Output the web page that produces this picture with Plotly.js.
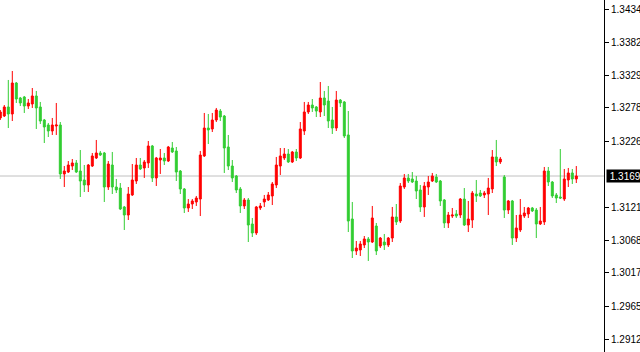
<!DOCTYPE html>
<html>
<head>
<meta charset="utf-8">
<script src="https://cdn.plot.ly/plotly-3.0.1.min.js"></script>
<style>html,body{margin:0;padding:0;background:#fff;}#chart{width:640px;height:352px;}</style>
</head>
<body>
<div id="chart"></div>
<script>
// Candle prices (bar 0 = leftmost)
const open = [
1.32626,1.32657,1.32800,1.32689,1.33179,1.32942,1.32958,1.32815,1.32847,1.32974,
1.32800,1.32594,1.32515,1.32420,1.32499,1.32515,1.31740,1.31771,1.31866,1.31914,
1.31787,1.31645,1.31566,1.31866,1.31993,1.32072,1.32072,1.31534,1.31882,1.31534,
1.31518,1.31218,1.31091,1.31408,1.31629,1.31882,1.31835,1.31914,1.32183,1.31677,
1.31961,1.31993,1.31945,1.32151,1.32104,1.31787,1.31503,1.31202,1.31265,1.31297,
1.31344,1.32025,1.32467,1.32452,1.32594,1.32736,1.32657,1.32167,1.31866,1.31708,
1.31503,1.31234,1.31329,1.30949,1.30807,1.31202,1.31297,1.31329,1.31392,1.31566,
1.31866,1.31993,1.32056,1.31930,1.32088,1.31993,1.32420,1.32721,1.32831,1.32800,
1.32721,1.32942,1.32894,1.32594,1.32467,1.32910,1.32879,1.32357,1.31028,1.30522,
1.30538,1.30617,1.30712,1.30664,1.30917,1.30601,1.30664,1.30617,1.30727,1.31060,
1.30996,1.31534,1.31677,1.31661,1.31629,1.31487,1.31218,1.31534,1.31629,1.31692,
1.31629,1.31329,1.30965,1.31075,1.31107,1.31091,1.31344,1.30933,1.31012,1.31423,
1.31439,1.31408,1.31423,1.31503,1.32009,1.31930,1.31692,1.31170,1.31313,1.30727,
1.30854,1.31075,1.31107,1.31202,1.31170,1.30949,1.30981,1.31787,1.31613,1.31408,
1.31376,1.31344,1.31645,1.31756,1.31661];
const high = [
1.32752,1.32831,1.33227,1.33369,1.33195,1.32958,1.32974,1.32926,1.33100,1.33053,
1.32879,1.32610,1.32547,1.32626,1.32863,1.32562,1.31866,1.31945,1.31977,1.31961,
1.32119,1.31882,1.31898,1.32072,1.32278,1.32104,1.32088,1.31945,1.32088,1.31661,
1.31597,1.31234,1.31534,1.31898,1.31993,1.31993,1.31961,1.32262,1.32199,1.32009,
1.32135,1.32072,1.32183,1.32246,1.32167,1.31803,1.31518,1.31344,1.31344,1.31392,
1.32104,1.32705,1.32689,1.32705,1.32784,1.32768,1.32673,1.32357,1.31961,1.31724,
1.31534,1.31360,1.31360,1.31044,1.31234,1.31281,1.31408,1.31455,1.31613,1.32009,
1.32151,1.32151,1.32135,1.32104,1.32135,1.32562,1.32879,1.32879,1.32926,1.32815,
1.33195,1.33053,1.33132,1.32800,1.33053,1.32926,1.32894,1.32736,1.31297,1.30680,
1.30680,1.30759,1.30743,1.31234,1.30965,1.30743,1.30791,1.30743,1.31218,1.31265,
1.31597,1.31740,1.31740,1.31771,1.31708,1.31566,1.31613,1.31708,1.31756,1.31740,
1.31645,1.31344,1.31139,1.31202,1.31170,1.31360,1.31518,1.31313,1.31471,1.31645,
1.31487,1.31471,1.31677,1.32119,1.32278,1.32009,1.31724,1.31329,1.31329,1.31091,
1.31344,1.31218,1.31218,1.31218,1.31202,1.31218,1.31851,1.31851,1.31629,1.31439,
1.32135,1.31819,1.31835,1.31819,1.31866];
const low = [
1.32594,1.32641,1.32467,1.32578,1.32863,1.32815,1.32705,1.32768,1.32784,1.32452,
1.32531,1.32230,1.32325,1.32357,1.32357,1.31661,1.31534,1.31756,1.31803,1.31756,
1.31376,1.31455,1.31455,1.31851,1.31977,1.32025,1.31297,1.31487,1.31423,1.31439,
1.31170,1.30854,1.31012,1.31392,1.31582,1.31803,1.31677,1.31835,1.31613,1.31550,
1.31740,1.31882,1.31930,1.32072,1.31629,1.31423,1.31123,1.31139,1.31186,1.31234,
1.31075,1.32009,1.32214,1.32404,1.32562,1.32578,1.31756,1.31803,1.31613,1.31439,
1.31123,1.31186,1.30664,1.30743,1.30775,1.31170,1.31218,1.31313,1.31249,1.31518,
1.31724,1.31961,1.31914,1.31914,1.31945,1.31977,1.32357,1.32689,1.32721,1.32641,
1.32641,1.32657,1.32467,1.32373,1.32420,1.32800,1.32309,1.30822,1.30411,1.30458,
1.30443,1.30569,1.30364,1.30648,1.30458,1.30569,1.30538,1.30585,1.30664,1.30933,
1.30965,1.31503,1.31597,1.31597,1.31344,1.31139,1.31060,1.31408,1.31613,1.31597,
1.31234,1.30886,1.30886,1.31044,1.31044,1.31044,1.30917,1.30822,1.30886,1.31297,
1.31376,1.31360,1.31091,1.31439,1.31866,1.31898,1.31044,1.31107,1.30617,1.30664,
1.30822,1.31044,1.31044,1.31139,1.30727,1.30933,1.30933,1.31550,1.31360,1.31281,
1.31344,1.31313,1.31534,1.31582,1.31597];
const close = [
1.32721,1.32800,1.32689,1.33179,1.32926,1.32863,1.32815,1.32863,1.32974,1.32784,
1.32578,1.32483,1.32420,1.32515,1.32515,1.31740,1.31787,1.31882,1.31914,1.31771,
1.31629,1.31566,1.31882,1.32025,1.32072,1.32040,1.31534,1.31898,1.31534,1.31487,
1.31186,1.31091,1.31423,1.31645,1.31882,1.31819,1.31930,1.32183,1.31677,1.31993,
1.31993,1.31945,1.32167,1.32088,1.31771,1.31503,1.31202,1.31265,1.31313,1.31360,
1.32040,1.32467,1.32436,1.32594,1.32752,1.32641,1.32151,1.31866,1.31677,1.31487,
1.31234,1.31329,1.30933,1.30807,1.31218,1.31234,1.31344,1.31408,1.31582,1.31882,
1.32025,1.32056,1.31930,1.32088,1.31993,1.32452,1.32721,1.32831,1.32784,1.32736,
1.32942,1.32831,1.32578,1.32467,1.32910,1.32863,1.32341,1.30996,1.30522,1.30569,
1.30633,1.30712,1.30664,1.31044,1.30522,1.30727,1.30617,1.30727,1.31060,1.30981,
1.31550,1.31677,1.31629,1.31613,1.31471,1.31218,1.31550,1.31613,1.31708,1.31613,
1.31313,1.30965,1.31091,1.31091,1.31075,1.31344,1.30933,1.31028,1.31439,1.31392,
1.31392,1.31439,1.31518,1.32009,1.31930,1.31977,1.31170,1.31313,1.30727,1.30886,
1.31091,1.31123,1.31202,1.31155,1.30949,1.30996,1.31787,1.31613,1.31392,1.31360,
1.31360,1.31661,1.31756,1.31661,1.31708];

// Right-hand price scale labels
const tickValues = [1.34345,1.33820,1.33295,1.32785,1.32260,1.31210,1.30685,1.30175,1.29650,1.29125];
const tickLabels = ["1.34345","1.33820","1.33295","1.32785","1.32260","1.31210","1.30685","1.30175","1.29650","1.29125"];
const bidLabel = "1.31690";

const bars = open.map((_, i) => i);
const lastClose = close[close.length - 1];

const upColor = '#ff0000';
const downColor = '#32cd32';

const trace = {
  type: 'candlestick',
  x: bars, open: open, high: high, low: low, close: close,
  increasing: {line: {color: upColor, width: 1}, fillcolor: upColor},
  decreasing: {line: {color: downColor, width: 1}, fillcolor: downColor},
  whiskerwidth: 0,
  hoverinfo: 'none'
};

const layout = {
  width: 640, height: 352,
  margin: {l: 0, r: 36, t: 0, b: 0, pad: 0},
  paper_bgcolor: '#ffffff', plot_bgcolor: '#ffffff',
  showlegend: false,
  xaxis: {
    range: [-0.075, 150.925], visible: false, fixedrange: true,
    rangeslider: {visible: false}
  },
  yaxis: {
    side: 'right', range: [1.289241, 1.344921],
    showgrid: false, zeroline: false,
    showline: true, linecolor: '#000000', linewidth: 1,
    ticks: 'outside', ticklen: 4, tickcolor: '#000000', tickwidth: 1,
    tickvals: tickValues, ticktext: tickLabels,
    tickfont: {family: 'Liberation Sans, Arial, sans-serif', size: 10, color: '#000000'}
  },
  shapes: [{
    type: 'line', xref: 'paper', x0: 0, x1: 1, yref: 'y', y0: lastClose, y1: lastClose,
    line: {color: '#c0c0c0', width: 1}, layer: 'below'
  }],
  annotations: [{
    xref: 'paper', x: 1, xanchor: 'left', xshift: 2,
    yref: 'y', y: lastClose, yanchor: 'middle',
    text: '\u00a0' + bidLabel, showarrow: false,
    bgcolor: '#000000', borderpad: 0,
    width: 44, height: 12, align: 'left',
    font: {family: 'Liberation Sans, Arial, sans-serif', size: 10, color: '#ffffff'}
  }]
};

Plotly.newPlot('chart', [trace], layout, {displayModeBar: false, staticPlot: true});
</script>
</body>
</html>
